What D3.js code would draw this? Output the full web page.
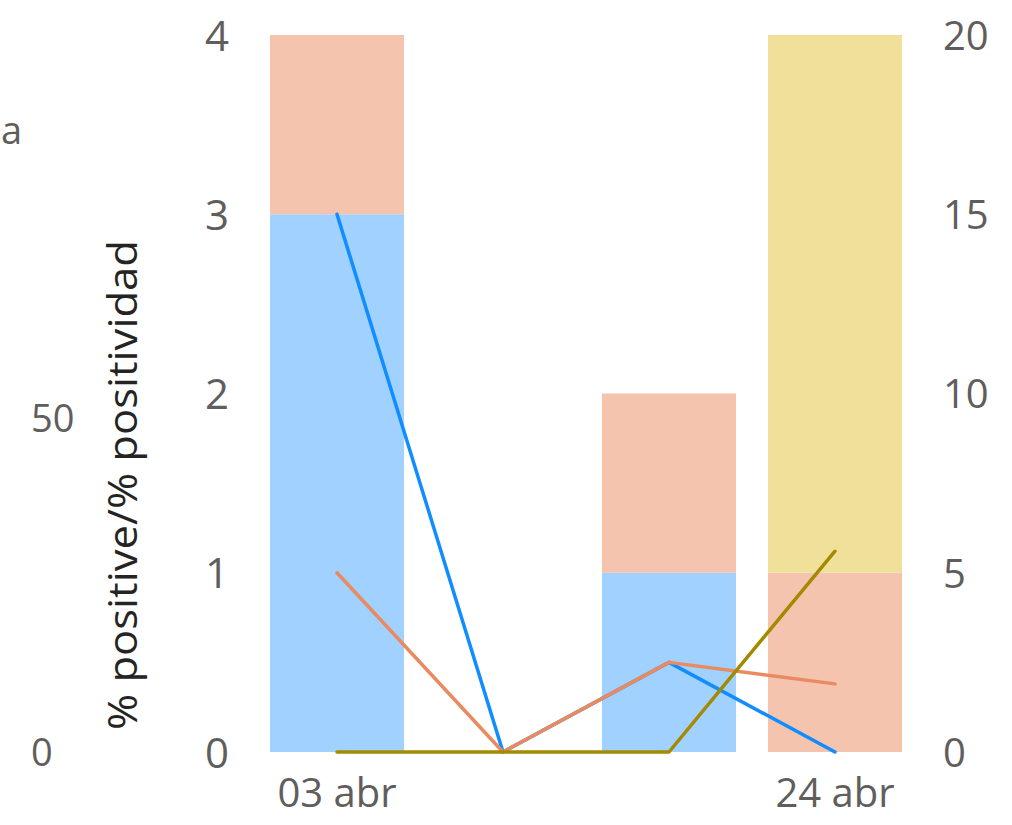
<!DOCTYPE html>
<html><head><meta charset="utf-8">
<script src="https://cdn.jsdelivr.net/npm/d3@7"></script>
<style>html,body{margin:0;padding:0;background:#fff;}svg{display:block;}</style>
</head><body>
<svg id="chart" width="1012" height="825"></svg>
<script>
const categories = ["03 abr", "10 abr", "17 abr", "24 abr"];
const xTickLabels = ["03 abr", "24 abr"];
// stacked bars (left axis 0-4)
const barBlue   = [3, 0, 1, 0];
const barSalmon = [1, 0, 1, 1];
const barYellow = [0, 0, 0, 3];
// lines (right axis 0-20)
const lineBlue   = [15, 0, 2.5, 0];
const lineSalmon = [5, 0, 2.5, 1.9];
const lineOlive  = [0, 0, 0, 5.6];
const leftTicks = [0, 1, 2, 3, 4];
const rightTicks = [0, 5, 10, 15, 20];
const farLeftTicks = [0, 50];
const yTitle = "% positive/% positividad";

const svg = d3.select("#chart");
const font = "'Open Sans', 'Segoe UI', sans-serif";
const tickColor = "#605E5C";

const x = d3.scaleBand().domain(categories).range([254, 918])
  .paddingInner(32/166).paddingOuter(16/166);
const yL = d3.scaleLinear().domain([0, 4]).range([752, 35]);
const yR = d3.scaleLinear().domain([0, 20]).range([752, 35]);
const yFar = d3.scaleLinear().domain([0, 100]).range([752, 84]);

// bars
const stackData = categories.map((c, i) => ({cat: c, blue: barBlue[i], salmon: barSalmon[i], yellow: barYellow[i]}));
const stack = d3.stack().keys(["blue", "salmon", "yellow"]);
const barColors = {blue: "#A0D1FF", salmon: "#F5C4AF", yellow: "#F0E099"};
stack(stackData).forEach(layer => {
  svg.append("g").selectAll("rect").data(layer.filter(d => d[1] > d[0])).join("rect")
    .attr("x", d => x(d.data.cat))
    .attr("width", x.bandwidth())
    .attr("y", d => yL(d[1]))
    .attr("height", d => yL(d[0]) - yL(d[1]))
    .attr("fill", barColors[layer.key]);
});

// lines
const line = d3.line().x((d, i) => x(categories[i]) + x.bandwidth() / 2).y(d => yR(d));
[[lineBlue, "#118DFF"], [lineSalmon, "#EA8A60"], [lineOlive, "#A38A00"]].forEach(([vals, col]) => {
  svg.append("path").datum(vals).attr("d", line)
    .attr("fill", "none").attr("stroke", col).attr("stroke-width", 3.5)
    .attr("stroke-linejoin", "round").attr("stroke-linecap", "round");
});

// left axis 0-4
const gL = svg.append("g").attr("transform", "translate(229,0)")
  .call(d3.axisLeft(yL).tickValues(leftTicks).tickSize(0).tickPadding(0).tickFormat(d3.format("d")));
gL.select(".domain").remove();
gL.selectAll("text").attr("font-family", font).attr("font-size", 42).attr("fill", tickColor).attr("dy", "0.36em");

// right axis 0-20
const gR = svg.append("g").attr("transform", "translate(943,0)")
  .call(d3.axisRight(yR).tickValues(rightTicks).tickSize(0).tickPadding(0).tickFormat(d3.format("d")));
gR.select(".domain").remove();
gR.selectAll("text").attr("font-family", font).attr("font-size", 40).attr("fill", tickColor).attr("dy", "0.36em");

// far-left axis
const gF = svg.append("g").attr("transform", "translate(31,0)")
  .call(d3.axisRight(yFar).tickValues(farLeftTicks).tickSize(0).tickPadding(0).tickFormat(d3.format("d")));
gF.select(".domain").remove();
gF.selectAll("text").attr("font-family", font).attr("font-size", 38).attr("fill", tickColor).attr("dy", "0.36em");
svg.append("text").attr("x", 1).attr("y", 130).attr("dy", "0.36em").text("a")
  .attr("font-family", font).attr("font-size", 38).attr("fill", tickColor);

// x axis
const gX = svg.append("g").attr("transform", "translate(0,769)")
  .call(d3.axisBottom(x).tickValues(xTickLabels).tickSize(0).tickPadding(0));
gX.select(".domain").remove();
gX.selectAll("text").attr("font-family", font).attr("font-size", 40).attr("fill", tickColor).attr("dy", "0.95em");

// y title
svg.append("text")
  .attr("transform", "translate(137,485) rotate(-90)")
  .attr("text-anchor", "middle")
  .attr("font-family", font).attr("font-size", 40).attr("fill", "#252423")
  .attr("textLength", 490).attr("lengthAdjust", "spacingAndGlyphs")
  .text(yTitle);
</script>
</body></html>
